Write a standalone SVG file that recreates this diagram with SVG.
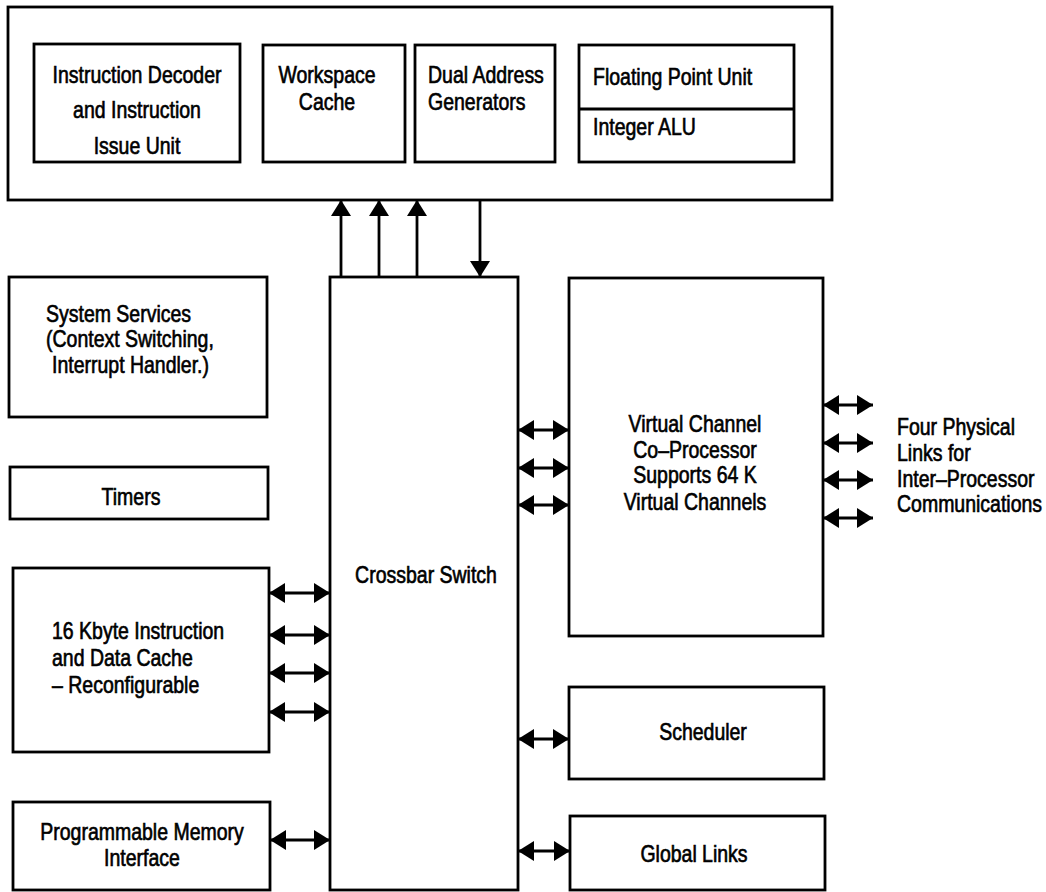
<svg xmlns="http://www.w3.org/2000/svg" width="1046" height="892" viewBox="0 0 1046 892">
<style>
.box{fill:none;stroke:#000;stroke-width:2.8}
.t{font-family:"Liberation Sans",Arial,Helvetica,sans-serif;font-size:19.5px;fill:#000;stroke:#000;stroke-width:0.55}
.m{text-anchor:middle}
.c{stroke:#000;stroke-width:2.8;fill:none}
</style>
<defs>
<marker id="ah" viewBox="0 0 16 20" refX="16" refY="10" markerWidth="16" markerHeight="20" markerUnits="userSpaceOnUse" orient="auto-start-reverse">
<path d="M0,0 L16,10 L0,20 z" fill="#000"/>
</marker>
</defs>
<rect width="1046" height="892" fill="#fff"/>
<g id="cpu">
<rect class="box" x="8" y="7" width="824" height="193"/>
</g>
<g id="decoder">
<rect class="box" x="34" y="44" width="206" height="118"/>
<text class="t m" transform="matrix(1,0,0,1.2,137,83)">Instruction Decoder</text>
<text class="t m" transform="matrix(1,0,0,1.2,137,118)">and Instruction</text>
<text class="t m" transform="matrix(1,0,0,1.2,137,154)">Issue Unit</text>
</g>
<g id="workspace">
<rect class="box" x="263" y="45" width="142" height="117"/>
<text class="t m" transform="matrix(1,0,0,1.2,327,83)">Workspace</text>
<text class="t m" transform="matrix(1,0,0,1.2,327,110)">Cache</text>
</g>
<g id="dual">
<rect class="box" x="415" y="45" width="140" height="117"/>
<text class="t" transform="matrix(1,0,0,1.2,428,83)">Dual Address</text>
<text class="t" transform="matrix(1,0,0,1.2,428,110)">Generators</text>
</g>
<g id="fpu">
<rect class="box" x="579" y="45" width="215" height="117"/>
<line class="c" x1="579" y1="109" x2="794" y2="109"/>
<text class="t" transform="matrix(1,0,0,1.2,593,85)">Floating Point Unit</text>
<text class="t" transform="matrix(1,0,0,1.2,593,135)">Integer ALU</text>
</g>
<g id="sysservices">
<rect class="box" x="9" y="277" width="258" height="140"/>
<text class="t" transform="matrix(1,0,0,1.2,46,322)">System Services</text>
<text class="t" transform="matrix(1,0,0,1.2,46,347)">(Context Switching,</text>
<text class="t" transform="matrix(1,0,0,1.2,52,373)">Interrupt Handler.)</text>
</g>
<g id="timers">
<rect class="box" x="10" y="467" width="258" height="52"/>
<text class="t m" transform="matrix(1,0,0,1.2,131,505)">Timers</text>
</g>
<g id="cache">
<rect class="box" x="13" y="568" width="256" height="184"/>
<text class="t" transform="matrix(1,0,0,1.2,52,639)">16 Kbyte Instruction</text>
<text class="t" transform="matrix(1,0,0,1.2,52,666)">and Data Cache</text>
<text class="t" transform="matrix(1,0,0,1.2,52,693)">– Reconfigurable</text>
</g>
<g id="pmi">
<rect class="box" x="13" y="802" width="257" height="88"/>
<text class="t m" transform="matrix(1,0,0,1.2,142,840)">Programmable Memory</text>
<text class="t m" transform="matrix(1,0,0,1.2,142,866)">Interface</text>
</g>
<g id="crossbar">
<rect class="box" x="330" y="277" width="188" height="613"/>
<text class="t m" transform="matrix(1,0,0,1.2,426,583)">Crossbar Switch</text>
</g>
<g id="vcp">
<rect class="box" x="569" y="278" width="254" height="358"/>
<text class="t m" transform="matrix(1,0,0,1.2,695,432)">Virtual Channel</text>
<text class="t m" transform="matrix(1,0,0,1.2,695,458)">Co–Processor</text>
<text class="t m" transform="matrix(1,0,0,1.2,695,483)">Supports 64 K</text>
<text class="t m" transform="matrix(1,0,0,1.2,695,510)">Virtual Channels</text>
</g>
<g id="links-label">
<text class="t" transform="matrix(1,0,0,1.2,897,435)">Four Physical</text>
<text class="t" transform="matrix(1,0,0,1.2,897,461)">Links for</text>
<text class="t" transform="matrix(1,0,0,1.2,897,487)">Inter–Processor</text>
<text class="t" transform="matrix(1,0,0,1.2,897,512)">Communications</text>
</g>
<g id="scheduler">
<rect class="box" x="569" y="687" width="255" height="92"/>
<text class="t m" transform="matrix(1,0,0,1.2,703,740)">Scheduler</text>
</g>
<g id="globallinks">
<rect class="box" x="570" y="816" width="255" height="74"/>
<text class="t m" transform="matrix(1,0,0,1.2,694,862)">Global Links</text>
</g>
<g id="connectors">
<line class="c" x1="341" y1="277" x2="341" y2="200" marker-end="url(#ah)"/>
<line class="c" x1="379" y1="277" x2="379" y2="200" marker-end="url(#ah)"/>
<line class="c" x1="417" y1="277" x2="417" y2="200" marker-end="url(#ah)"/>
<line class="c" x1="480" y1="200" x2="480" y2="277" marker-end="url(#ah)"/>
<line class="c" x1="269" y1="593" x2="330" y2="593" marker-start="url(#ah)" marker-end="url(#ah)"/>
<line class="c" x1="269" y1="635" x2="330" y2="635" marker-start="url(#ah)" marker-end="url(#ah)"/>
<line class="c" x1="269" y1="673" x2="330" y2="673" marker-start="url(#ah)" marker-end="url(#ah)"/>
<line class="c" x1="269" y1="712" x2="330" y2="712" marker-start="url(#ah)" marker-end="url(#ah)"/>
<line class="c" x1="270" y1="840" x2="330" y2="840" marker-start="url(#ah)" marker-end="url(#ah)"/>
<line class="c" x1="518" y1="430" x2="569" y2="430" marker-start="url(#ah)" marker-end="url(#ah)"/>
<line class="c" x1="518" y1="468" x2="569" y2="468" marker-start="url(#ah)" marker-end="url(#ah)"/>
<line class="c" x1="518" y1="505" x2="569" y2="505" marker-start="url(#ah)" marker-end="url(#ah)"/>
<line class="c" x1="823" y1="405" x2="873" y2="405" marker-start="url(#ah)" marker-end="url(#ah)"/>
<line class="c" x1="823" y1="443" x2="873" y2="443" marker-start="url(#ah)" marker-end="url(#ah)"/>
<line class="c" x1="823" y1="480" x2="873" y2="480" marker-start="url(#ah)" marker-end="url(#ah)"/>
<line class="c" x1="823" y1="518" x2="873" y2="518" marker-start="url(#ah)" marker-end="url(#ah)"/>
<line class="c" x1="518" y1="739" x2="569" y2="739" marker-start="url(#ah)" marker-end="url(#ah)"/>
<line class="c" x1="518" y1="851" x2="570" y2="851" marker-start="url(#ah)" marker-end="url(#ah)"/>
</g>
</svg>
